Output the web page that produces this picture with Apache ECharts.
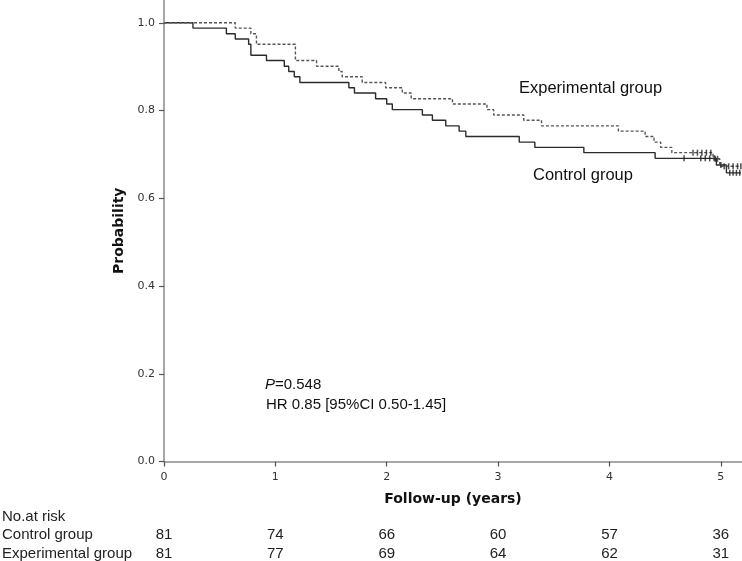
<!DOCTYPE html>
<html>
<head>
<meta charset="utf-8">
<script src="https://cdn.jsdelivr.net/npm/echarts@6/dist/echarts.min.js"></script>
<style>
html,body{margin:0;padding:0;background:#fff;}
#chart{width:742px;height:561px;}
</style>
</head>
<body>
<div id="chart"></div>
<script>
// ---- data ----
const years = [0, 1, 2, 3, 4, 5];
const yTicks = [0, 0.2, 0.4, 0.6, 0.8, 1.0];
const riskControl = [81, 74, 66, 60, 57, 36];
const riskExperimental = [81, 77, 69, 64, 62, 31];

// Kaplan-Meier steps: [time (years), survival after the event]
const controlSurvival = [
  [0, 1.0], [0.26, 0.988], [0.56, 0.975], [0.64, 0.963], [0.76, 0.951], [0.78, 0.926],
  [0.92, 0.914], [1.08, 0.901], [1.12, 0.889], [1.17, 0.877], [1.22, 0.864],
  [1.66, 0.852], [1.71, 0.840], [1.90, 0.827], [2.00, 0.815], [2.05, 0.802],
  [2.32, 0.790], [2.41, 0.778], [2.53, 0.765], [2.65, 0.753], [2.71, 0.741],
  [3.19, 0.728], [3.33, 0.716], [3.77, 0.704], [4.41, 0.691], [4.96, 0.676],
  [5.05, 0.658], [5.18, 0.658]
];
const experimentalSurvival = [
  [0, 1.0], [0.64, 0.988], [0.78, 0.975], [0.83, 0.951], [1.18, 0.914],
  [1.37, 0.901], [1.57, 0.889], [1.60, 0.877], [1.78, 0.864], [1.99, 0.852],
  [2.14, 0.840], [2.22, 0.827], [2.59, 0.815], [2.90, 0.802], [2.96, 0.790],
  [3.23, 0.778], [3.39, 0.765], [4.08, 0.753], [4.32, 0.741], [4.40, 0.728],
  [4.46, 0.716], [4.56, 0.704], [4.93, 0.690], [4.99, 0.673], [5.18, 0.673]
];
// censored observations
const controlCensored = [
  [4.67, 0.691], [4.82, 0.691], [4.86, 0.691], [4.90, 0.691], [4.94, 0.691],
  [5.00, 0.676], [5.08, 0.658], [5.11, 0.658], [5.14, 0.658], [5.17, 0.658]
];
const experimentalCensored = [
  [4.75, 0.704], [4.79, 0.704], [4.83, 0.704], [4.87, 0.704], [4.91, 0.704],
  [4.95, 0.690], [4.97, 0.690], [5.03, 0.673], [5.07, 0.673], [5.11, 0.673],
  [5.15, 0.673], [5.18, 0.673]
];

const axisColor = '#8a8a8a';
const tickFont = 'DejaVu Sans';
const textFont = 'Liberation Sans, Arial, sans-serif';

const chart = echarts.init(document.getElementById('chart'), null, {renderer: 'canvas'});

function riskAxis(offset, values) {
  return {
    type: 'value', min: 0, max: 5.19, position: 'bottom', offset: offset,
    axisLine: {show: false}, axisTick: {show: false}, splitLine: {show: false},
    axisLabel: {
      customValues: years, margin: 0, verticalAlign: 'middle',
      formatter: v => String(values[years.indexOf(v)]),
      fontFamily: 'Liberation Sans Narrow, Liberation Sans, Arial', fontSize: 15, color: '#222'
    }
  };
}

const option = {
  animation: false,
  backgroundColor: '#fff',
  grid: {left: 164, right: 0, top: 0, bottom: 99, containLabel: false},
  xAxis: [
    {
      type: 'value', min: 0, max: 5.19,
      axisLine: {show: true, lineStyle: {color: axisColor, width: 1.5}},
      axisTick: {show: true, customValues: years, length: 5, lineStyle: {color: '#555', width: 1.2}},
      axisLabel: {customValues: years, margin: 10, fontFamily: tickFont, fontSize: 11, color: '#333'},
      splitLine: {show: false},
      name: 'Follow-up (years)', nameLocation: 'middle', nameGap: 31,
      nameTextStyle: {fontFamily: tickFont, fontWeight: 'bold', fontSize: 14, color: '#111'}
    },
    riskAxis(73, riskControl),
    riskAxis(92, riskExperimental)
  ],
  yAxis: {
    type: 'value', min: 0, max: 1.052,
    axisLine: {show: true, lineStyle: {color: axisColor, width: 1.5}},
    axisTick: {show: true, customValues: yTicks, length: 5, lineStyle: {color: '#555', width: 1.2}},
    axisLabel: {customValues: yTicks, margin: 9, formatter: v => v.toFixed(1),
      fontFamily: tickFont, fontSize: 11, color: '#333'},
    splitLine: {show: false},
    name: 'Probability', nameLocation: 'middle', nameGap: 33, nameRotate: 90,
    nameTextStyle: {fontFamily: tickFont, fontWeight: 'bold', fontSize: 14, color: '#111'}
  },
  series: [
    {
      name: 'Control group', type: 'line', step: 'end', symbol: 'none',
      data: controlSurvival, lineStyle: {color: '#2b2b2b', width: 1.4}, z: 3
    },
    {
      name: 'Experimental group', type: 'line', step: 'end', symbol: 'none',
      data: experimentalSurvival, lineStyle: {color: '#555', width: 1.4, type: [3, 2]}, z: 3
    },
    {
      type: 'scatter', data: controlCensored, symbol: 'rect', symbolSize: [1.5, 6],
      itemStyle: {color: '#222'}, z: 4
    },
    {
      type: 'scatter', data: experimentalCensored, symbol: 'rect', symbolSize: [1.5, 6],
      itemStyle: {color: '#222'}, z: 4
    }
  ],
  graphic: [
    {type: 'text', left: 519, top: 80, style: {text: 'Experimental group', font: '16.5px ' + textFont, fill: '#111'}},
    {type: 'text', left: 533, top: 167, style: {text: 'Control group', font: '16.5px ' + textFont, fill: '#111'}},
    {type: 'text', left: 265, top: 377, style: {
      text: '{i|P}=0.548', font: '15px ' + textFont, fill: '#111',
      rich: {i: {fontStyle: 'italic', fontSize: 15, fontFamily: textFont, fill: '#111'}}
    }},
    {type: 'text', left: 266, top: 397, style: {text: 'HR 0.85 [95%CI 0.50-1.45]', font: '15px ' + textFont, fill: '#111'}},
    {type: 'text', left: 2, top: 509, style: {text: 'No.at risk', font: '15px ' + textFont, fill: '#222'}},
    {type: 'text', left: 2, top: 527, style: {text: 'Control group', font: '15px ' + textFont, fill: '#222'}},
    {type: 'text', left: 2, top: 546, style: {text: 'Experimental group', font: '15px ' + textFont, fill: '#222'}}
  ]
};
chart.setOption(option);
</script>
</body>
</html>
